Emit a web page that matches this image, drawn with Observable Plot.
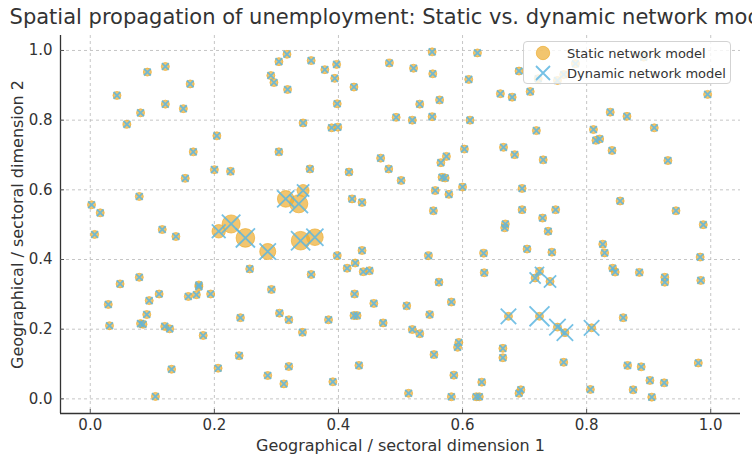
<!DOCTYPE html>
<html><head><meta charset="utf-8">
<script src="https://cdn.jsdelivr.net/npm/d3@7"></script>
<script src="https://cdn.jsdelivr.net/npm/@observablehq/plot@0.6"></script>
<style>
body{margin:0;background:#fff;overflow:hidden;font-family:"DejaVu Sans",sans-serif}
#wrap{position:relative;width:752px;height:454px;overflow:hidden}
#title{position:absolute;left:0;width:800px;top:5px;text-align:center;font-size:21px;line-height:25px;color:#333;white-space:nowrap}
#legend{position:absolute;left:523px;top:41px;width:206px;height:41px;background:rgba(255,255,255,0.8);border:1px solid #d3d3d3;border-radius:4px}
#legend svg{display:block}
</style></head><body>
<div id="wrap"><div id="chart"></div>
<div id="title">Spatial propagation of unemployment: Static vs. dynamic network models</div>
<div id="legend"></div></div>
<script>
// Regions with baseline unemployment (static = dynamic = 1)
const baseX = [0.043,0.092,0.121,0.161,0.081,0.121,0.150,0.059,0.204,0.166,0.304,0.291,0.296,0.304,0.317,0.318,0.356,0.378,0.397,0.394,0.425,0.482,0.521,0.551,0.552,0.624,0.610,0.398,0.343,0.389,0.399,0.493,0.519,0.551,0.531,0.563,0.612,0.661,0.680,0.603,0.666,0.468,0.574,0.691,0.709,0.722,0.753,0.763,0.782,0.892,0.995,0.838,0.865,0.909,0.719,0.811,0.815,0.821,0.841,0.684,0.730,0.931,0.200,0.226,0.153,0.079,0.002,0.016,0.007,0.116,0.138,0.257,0.079,0.048,0.175,0.354,0.417,0.481,0.501,0.565,0.567,0.572,0.556,0.600,0.578,0.553,0.422,0.438,0.398,0.438,0.414,0.427,0.440,0.450,0.545,0.634,0.635,0.669,0.668,0.356,0.562,0.696,0.696,0.750,0.729,0.738,0.704,0.744,0.854,0.944,0.988,0.826,0.829,0.983,0.842,0.846,0.885,0.926,0.926,0.984,0.859,0.763,0.866,0.888,0.902,0.925,0.980,0.694,0.691,0.806,0.875,0.905,0.029,0.031,0.095,0.111,0.091,0.081,0.085,0.120,0.128,0.158,0.171,0.175,0.194,0.182,0.292,0.305,0.320,0.242,0.240,0.206,0.131,0.286,0.312,0.320,0.105,0.384,0.342,0.426,0.457,0.425,0.430,0.472,0.510,0.547,0.582,0.519,0.531,0.594,0.592,0.554,0.433,0.391,0.513,0.586,0.582,0.665,0.665,0.631,0.622,0.627];
const baseY = [0.871,0.938,0.954,0.904,0.821,0.846,0.833,0.788,0.755,0.709,0.709,0.928,0.908,0.968,0.989,0.888,0.971,0.945,0.960,0.920,0.895,0.964,0.949,0.996,0.933,0.993,0.917,0.847,0.792,0.778,0.780,0.808,0.800,0.810,0.846,0.858,0.800,0.876,0.866,0.717,0.722,0.691,0.696,0.941,0.882,0.919,0.914,0.931,0.962,0.981,0.874,0.823,0.811,0.778,0.770,0.773,0.742,0.746,0.713,0.701,0.686,0.684,0.658,0.653,0.633,0.581,0.557,0.534,0.472,0.486,0.466,0.373,0.349,0.330,0.327,0.660,0.651,0.660,0.627,0.678,0.636,0.634,0.598,0.608,0.587,0.540,0.574,0.564,0.411,0.426,0.375,0.390,0.365,0.368,0.411,0.418,0.362,0.502,0.491,0.357,0.335,0.604,0.543,0.543,0.519,0.481,0.430,0.421,0.568,0.540,0.500,0.444,0.419,0.407,0.375,0.364,0.363,0.349,0.335,0.340,0.233,0.105,0.096,0.092,0.053,0.046,0.103,0.026,0.016,0.027,0.026,0.005,0.271,0.210,0.282,0.301,0.242,0.216,0.214,0.208,0.201,0.294,0.299,0.322,0.301,0.182,0.314,0.246,0.227,0.233,0.124,0.088,0.085,0.067,0.043,0.093,0.007,0.227,0.191,0.301,0.274,0.239,0.239,0.218,0.267,0.242,0.278,0.199,0.187,0.162,0.148,0.127,0.096,0.049,0.016,0.068,0.006,0.145,0.118,0.048,0.006,0.006];

// Regions hit by the shock
const hotX = [0.207,0.227,0.250,0.286,0.315,0.336,0.343,0.339,0.362,0.724,0.717,0.741,0.674,0.724,0.753,0.765,0.808];
const hotY = [0.481,0.502,0.462,0.423,0.574,0.560,0.598,0.454,0.464,0.366,0.347,0.337,0.237,0.237,0.206,0.190,0.204];
const hotStatic = [2.8,5.1,5.4,4.0,4.3,5.1,2.25,5.4,4.3,1,1,1,1,1,1,1,1];
const hotDynamic = [3.9,7.0,7.5,5.5,6.0,7.0,3.1,7.5,6.0,1.75,2.6,3.1,4.9,8.1,5.5,5.5,4.9];

const xTicks = [0.0,0.2,0.4,0.6,0.8,1.0];
const yTicks = [0.0,0.2,0.4,0.6,0.8,1.0];
const xLabel = "Geographical / sectoral dimension 1";
const yLabel = "Geographical / sectoral dimension 2";
const seriesNames = ["Static network model","Dynamic network model"];

const data = baseX.map((x,i)=>({x, y: baseY[i], s: 1, d: 1}))
  .concat(hotX.map((x,i)=>({x, y: hotY[i], s: hotStatic[i], d: hotDynamic[i]})));

const orange = "#ecad30", blue = "#5db6e0";
const rStatic = d3.scaleSqrt().domain([0,1]).range([0,4]);
const rDyn = d3.scaleSqrt().domain([0,1]).range([0,3.2]);
const xDomain = [-0.048, 1.048], yDomain = [-0.042, 1.043];

const chart = Plot.plot({
  width: 752, height: 454,
  marginLeft: 60, marginRight: 12, marginTop: 35, marginBottom: 41,
  style: {fontFamily: "DejaVu Sans, sans-serif", color: "#333", background: "#fff"},
  x: {domain: xDomain},
  y: {domain: yDomain},
  r: {type: "identity"},
  marks: [
    Plot.gridX(xTicks, {stroke: "#b8b8b8", strokeOpacity: 0.8, strokeDasharray: "3,3"}),
    Plot.gridY(yTicks, {stroke: "#b8b8b8", strokeOpacity: 0.8, strokeDasharray: "3,3"}),
    Plot.dot(data, {x: "x", y: "y", r: d => rStatic(d.s), fill: orange, fillOpacity: 0.7, stroke: orange, strokeOpacity: 0.7, strokeWidth: 1, sort: null}),
    Plot.dot(data, {x: "x", y: "y", r: d => rDyn(d.d), symbol: "times", stroke: blue, strokeOpacity: 0.85, strokeWidth: 1.8, sort: null}),
    Plot.ruleX([xDomain[0]], {stroke: "#333", strokeWidth: 1.3}),
    Plot.ruleY([yDomain[0]], {stroke: "#333", strokeWidth: 1.3}),
    Plot.axisX(xTicks, {tickFormat: d3.format(".1f"), tickSize: -4, tickPadding: 10, fontSize: 15, label: null, stroke: "#555"}),
    Plot.axisY(yTicks, {tickFormat: d3.format(".1f"), tickSize: -4, tickPadding: 12, fontSize: 15, label: null, stroke: "#555"}),
    Plot.text([xLabel], {text: d => d, frameAnchor: "bottom", lineAnchor: "middle", textAnchor: "middle", dy: 32, fontSize: 16, fill: "#333"}),
    Plot.text([yLabel], {text: d => d, frameAnchor: "left", lineAnchor: "middle", textAnchor: "middle", rotate: -90, dx: -43, fontSize: 16, fill: "#333"})
  ]
});
document.getElementById("chart").appendChild(chart);

// legend
const lg = d3.select("#legend").append("svg").attr("width", 206).attr("height", 41);
lg.append("circle").attr("cx", 19).attr("cy", 11).attr("r", 6.7)
  .attr("fill", orange).attr("fill-opacity", 0.7).attr("stroke", orange).attr("stroke-opacity", 0.7);
lg.append("path").attr("d", "M12,24L26,38M12,38L26,24")
  .attr("stroke", blue).attr("stroke-opacity", 0.85).attr("stroke-width", 1.8).attr("fill", "none");
seriesNames.forEach((t,i)=>{
  lg.append("text").attr("x", 43).attr("y", 11 + i*20).attr("dy", "0.35em")
    .attr("font-size", 13).attr("fill", "#333").attr("font-family", "DejaVu Sans, sans-serif").text(t);
});
</script>
</body></html>
